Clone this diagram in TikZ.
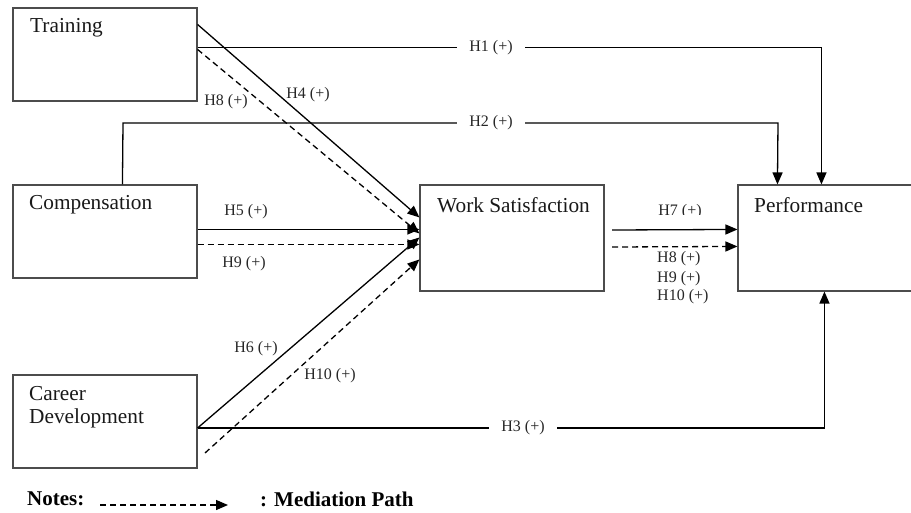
\documentclass[tikz,border=0pt]{standalone}
\usepackage{fontspec}
\setmainfont{Liberation Serif}
\usetikzlibrary{arrows.meta}
\begin{document}
\begin{tikzpicture}[x=1pt,y=-1pt,
  box/.style={draw=black!70,line width=1.1pt,rectangle,inner sep=0pt},
  boxtext/.style={font=\fontsize{21.3}{23}\selectfont,anchor=west,inner sep=0pt,text=black!90},
  lbl/.style={font=\fontsize{16}{18}\selectfont,fill=white,inner sep=2pt,text=black!85},
  conn/.style={line width=1.3pt,-{Triangle[length=12pt,width=10pt]}},
  plain/.style={line width=1.3pt},
  med/.style={conn,dash pattern=on 6pt off 4pt}]
\useasboundingbox (0,0) rectangle (911,512);
% boxes
\node[box,minimum width=184pt,minimum height=93pt] (train) at (105,54.5) {};
\node[box,minimum width=184pt,minimum height=93pt] (comp) at (105,231.5) {};
\node[box,minimum width=184pt,minimum height=93pt] (career) at (105,421.5) {};
\node[box,minimum width=184pt,minimum height=106pt] (ws) at (512,238) {};
\node[box,minimum width=184pt,minimum height=106pt] (perf) at (830,238) {};
% box texts
\node[boxtext] (trainT) at (30,28) {Training};
\node[boxtext] (compT) at (29,205) {Compensation};
\node[boxtext,align=left] (careerT) at (29,407) {Career\\Development};
\node[boxtext] (wsT) at (437,205) {Work Satisfaction};
\node[boxtext] (perfT) at (754,205) {Performance};
% coordinates
\coordinate (h1a) at ([yshift=-40pt]train.north east);
\coordinate (h1b) at ([xshift=84pt]perf.north west);
\coordinate (h2a) at ([xshift=110pt]comp.north west);
\coordinate (h2b) at ([xshift=40pt]perf.north west);
\coordinate (h2c) at (123,123);
\coordinate (h2d) at (778,123);
\coordinate (h3a) at ([yshift=-6.5pt]career.east);
\coordinate (h3b) at ([xshift=87pt]perf.south west);
\coordinate (h4a) at ([yshift=-17pt]train.north east);
\coordinate (h4b) at ([yshift=-33pt]ws.north west);
\coordinate (h8a) at ([yshift=-42pt]train.north east);
\coordinate (h8b) at ([yshift=-49pt]ws.north west);
\coordinate (h5a) at ([yshift=-45pt]comp.north east);
\coordinate (h5b) at ([yshift=-45pt]ws.north west);
\coordinate (h9a) at ([yshift=-60pt]comp.north east);
\coordinate (h9b) at ([yshift=-60pt]ws.north west);
\coordinate (h6b) at ([yshift=-53pt]ws.north west);
\coordinate (h10a) at (205,453);
\coordinate (h10b) at ([yshift=-75pt]ws.north west);
\coordinate (h7a) at (612,230);
\coordinate (h7b) at ([yshift=-45pt]perf.north west);
\coordinate (m7a) at (612,247);
\coordinate (m7b) at ([yshift=-62pt]perf.north west);
% connectors
\draw[conn] (h1a) -| (h1b);
\draw[conn] (h2a) -- (h2c) -- (h2d) -- (h2b);
\draw[conn] (h3a) -| (h3b);
\draw[conn] (h4a) -- (h4b);
\draw[med] (h8a) -- (h8b);
\draw[conn] (h5a) -- (h5b);
\draw[med] (h9a) -- (h9b);
\draw[conn] (h3a) -- (h6b);
\draw[med] (h10a) -- (h10b);
\draw[conn] (h7a) -- (h7b);
\draw[med] (m7a) -- (m7b);
% labels
\node[lbl,inner xsep=12pt] (l1) at (491,48) {H1 (+)};
\node[lbl,inner xsep=12pt] (l2) at (491,123) {H2 (+)};
\node[lbl,inner xsep=12pt] (l3) at (523,428) {H3 (+)};
\node[lbl,fill=none] (l4) at (308,95) {H4 (+)};
\node[lbl,fill=none] (l8) at (226,102) {H8 (+)};
\node[lbl,fill=none] (l5) at (246,212) {H5 (+)};
\node[lbl,fill=none] (l9) at (244,264) {H9 (+)};
\node[lbl,fill=none] (l6) at (256,349) {H6 (+)};
\node[lbl,fill=none] (l10) at (330,376) {H10 (+)};
\begin{scope}
\clip (640,195) rectangle (720,214);
\node[lbl,fill=none] (l7) at (680,212) {H7 (+)};
\end{scope}
\node[lbl,fill=none,anchor=west,inner sep=0pt] (l8b) at (657,259) {H8 (+)};
\node[lbl,fill=none,anchor=west,inner sep=0pt] (l9b) at (657,279) {H9 (+)};
\node[lbl,fill=none,anchor=west,inner sep=0pt] (l10b) at (657,297) {H10 (+)};
% notes
\node[font=\fontsize{21}{23}\selectfont\bfseries,anchor=west,inner sep=0pt] (notes) at (27,499) {Notes:};
\coordinate (na) at (100,505);
\coordinate (nb) at (228,505);
\draw[med] (na) -- (nb);
\node[font=\fontsize{21}{23}\selectfont\bfseries,anchor=west,inner sep=0pt] (medp) at (260,499) {: Mediation Path};
\end{tikzpicture}
\end{document}
